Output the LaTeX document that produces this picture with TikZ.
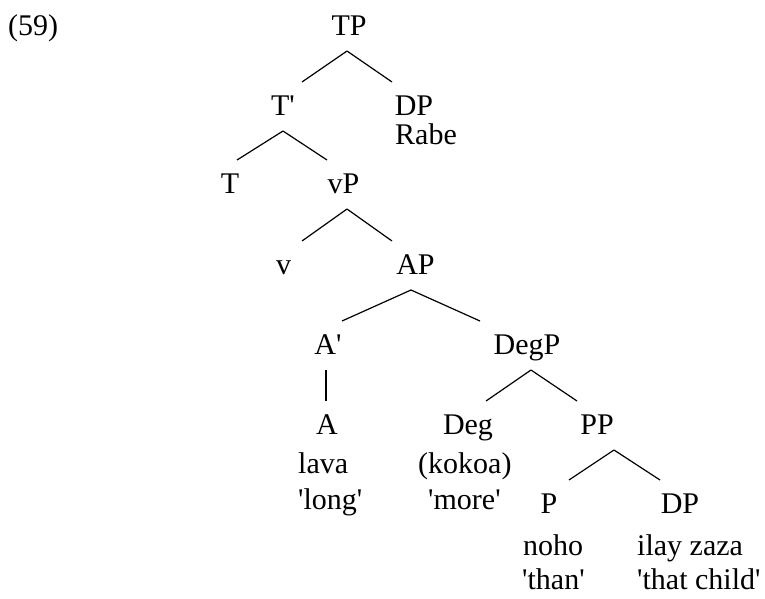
\documentclass[tikz,border=0pt]{standalone}
\usepackage{fontspec}
\setmainfont{Liberation Serif}
\usetikzlibrary{calc}
\newcommand{\sq}{\textquotesingle}
\begin{document}
\begin{tikzpicture}[x=1pt,y=-1pt,
  every node/.style={font=\fontsize{30pt}{36pt}\selectfont, inner sep=0pt},
  cat/.style={anchor=base},
  word/.style={anchor=base west},
  branch/.style={line width=1.2pt}]
\useasboundingbox (0,0) rectangle (765,598);
% labels
\node[word] (ex) at (8,35) {(59)};
\node[cat] (TP) at (349,35) {TP};
\node[cat] (Tb) at (283,115) {T\sq};
\node[cat] (DPa) at (414,115) {DP};
\node[word] (rabe) at (395,144) {Rabe};
\node[cat] (T) at (230,193) {T};
\node[cat] (vP) at (343.5,193) {vP};
\node[cat] (v) at (283.5,274) {v};
\node[cat] (AP) at (415.5,274) {AP};
\node[cat] (Ab) at (328,354) {A\sq};
\node[cat] (DegP) at (527,354) {DegP};
\node[cat] (A) at (327,434) {A};
\node[cat] (Deg) at (468,434) {Deg};
\node[cat] (PP) at (597,434) {PP};
\node[word] (lava) at (298,473) {lava};
\node[word] (long) at (298,509) {\sq long\sq};
\node[word] (kokoa) at (418,473) {(kokoa)};
\node[word] (more) at (428,509) {\sq more\sq};
\node[cat] (P) at (549,513) {P};
\node[cat] (DPb) at (680,513) {DP};
\node[word] (noho) at (523,555) {noho};
\node[word] (than) at (522,589) {\sq than\sq};
\node[word] (ilay) at (637,555) {ilay zaza};
\node[word] (child) at (637,589) {\sq that child\sq};
% branches
\draw[branch] ([xshift=-2pt,yshift=-16pt]TP.base) -- ([xshift=19pt,yshift=33pt]Tb.base);
\draw[branch] ([xshift=-2pt,yshift=-16pt]TP.base) -- ([xshift=-22pt,yshift=33pt]DPa.base);
\draw[branch] ([yshift=-16pt]Tb.base) -- ([xshift=7pt,yshift=33pt]T.base);
\draw[branch] ([yshift=-16pt]Tb.base) -- ([xshift=-16.5pt,yshift=33pt]vP.base);
\draw[branch] ([xshift=3.5pt,yshift=-16pt]vP.base) -- ([xshift=18.5pt,yshift=33pt]v.base);
\draw[branch] ([xshift=3.5pt,yshift=-16pt]vP.base) -- ([xshift=-23.5pt,yshift=33pt]AP.base);
\draw[branch] ([xshift=-4.5pt,yshift=-16pt]AP.base) -- ([xshift=14pt,yshift=33pt]Ab.base);
\draw[branch] ([xshift=-4.5pt,yshift=-16pt]AP.base) -- ([xshift=-47pt,yshift=33pt]DegP.base);
\draw[branch] ([xshift=-2pt,yshift=-16pt]Ab.base) -- ([xshift=-1pt,yshift=33pt]A.base);
\draw[branch] ([xshift=4pt,yshift=-16pt]DegP.base) -- ([xshift=18pt,yshift=33pt]Deg.base);
\draw[branch] ([xshift=4pt,yshift=-16pt]DegP.base) -- ([xshift=-20pt,yshift=33pt]PP.base);
\draw[branch] ([xshift=17pt,yshift=-16pt]PP.base) -- ([xshift=20pt,yshift=33pt]P.base);
\draw[branch] ([xshift=17pt,yshift=-16pt]PP.base) -- ([xshift=-20pt,yshift=33pt]DPb.base);
\end{tikzpicture}
\end{document}
